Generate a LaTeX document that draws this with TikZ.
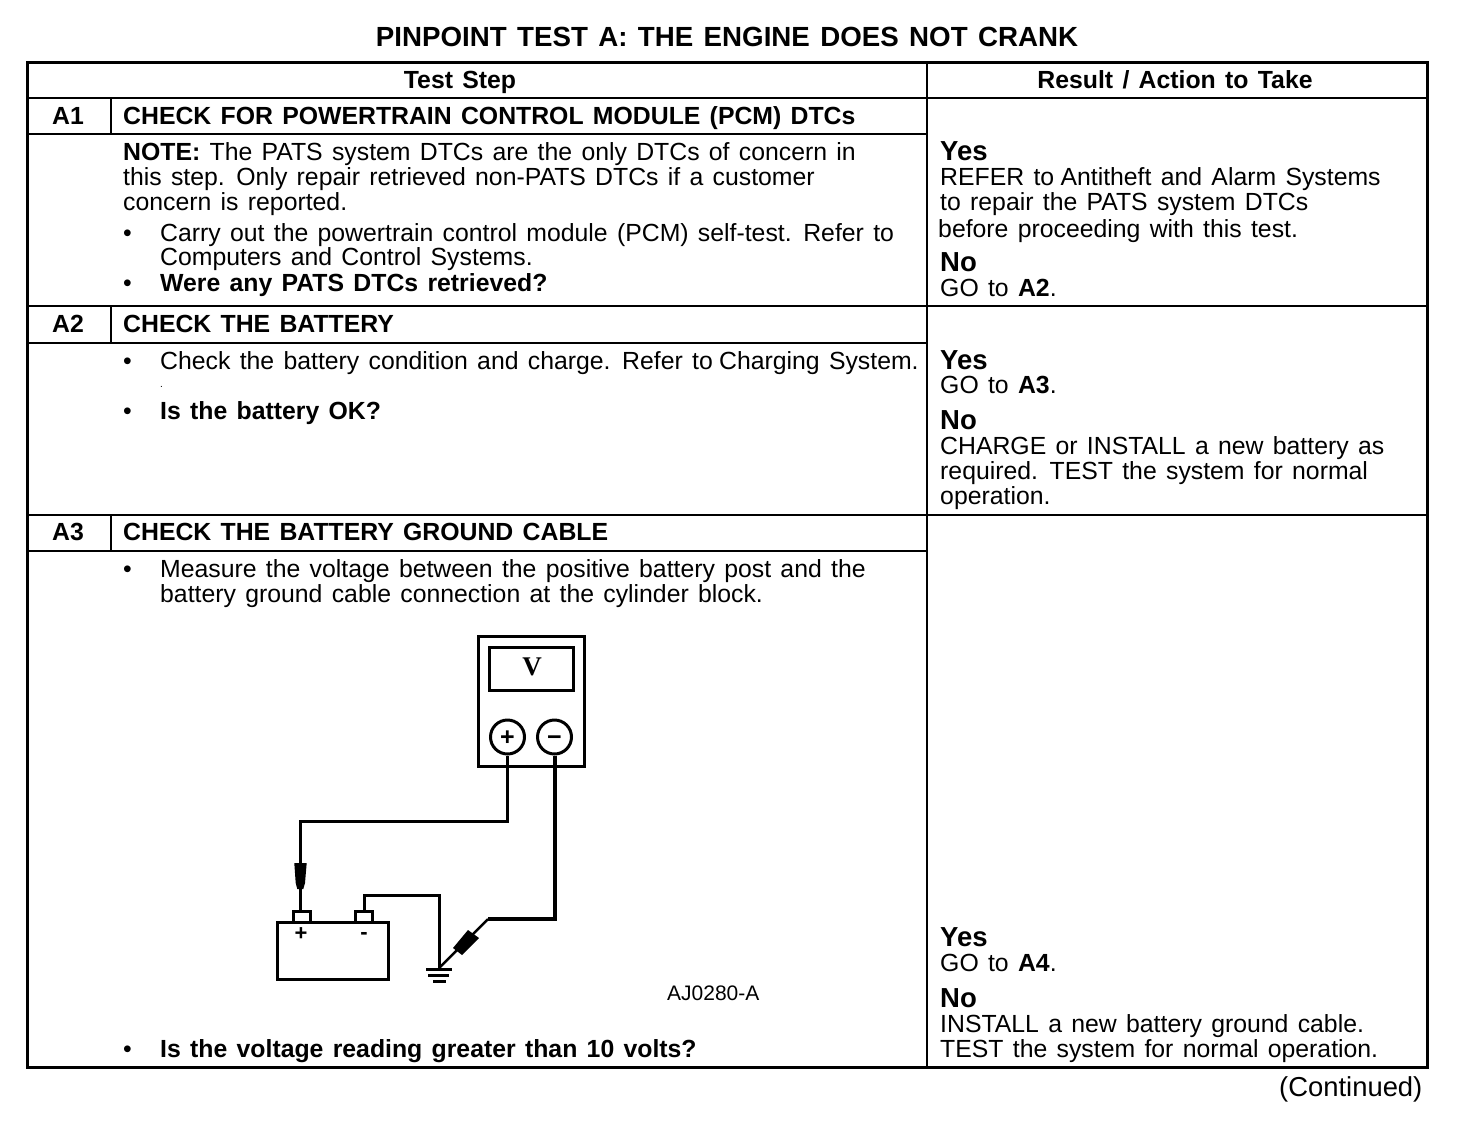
\documentclass[tikz,border=0pt]{standalone}
\usepackage{fontspec}
\setmainfont[WordSpace=1.35]{Liberation Sans}
\newfontfamily\meterfont{Liberation Serif}
\tikzset{
  line/.style={anchor=base west,inner sep=0pt,font=\fontsize{24.8}{25}\selectfont},
  head/.style={line,font=\fontsize{24.8}{25}\selectfont\bfseries},
  answer/.style={line,font=\fontsize{27.5}{28}\selectfont\bfseries},
  grid/.style={line width=2pt},
  frame/.style={line width=3pt},
  wire/.style={line width=3pt},
  post/.style={draw,line width=3pt,inner sep=0pt,minimum width=17pt,minimum height=11pt},
  term/.style={draw,circle,line width=3pt,inner sep=0pt,minimum size=34pt,text height=17pt,text depth=0pt,font=\fontsize{25}{25}\selectfont\bfseries},
  sign/.style={inner sep=0pt,text height=15pt,text depth=0pt,font=\fontsize{22}{22}\selectfont\bfseries}
}
\begin{document}
\begin{tikzpicture}[x=1pt,y=-1pt]
        \useasboundingbox (0,0) rectangle (1472,1120);
        \node[head,anchor=base] (title) at (727,46) {\fontsize{27.7}{28}\selectfont PINPOINT TEST A: THE ENGINE DOES NOT CRANK};
        % Rejilla de la tabla
        \draw[frame] (27,62) rectangle (1427,1067);
        \draw[grid] (927,62) -- (927,1067);
        \foreach \y in {98,306,515} \draw[grid] (27,\y) -- (1427,\y);
        \foreach \y in {134,343,551} \draw[grid] (27,\y) -- (927,\y);
        \foreach \y/\z in {98/134,306/343,515/551} \draw[grid] (111,\y) -- (111,\z);
        \node[head,anchor=base] (headstep) at (460,88) {Test Step};
        \node[head,anchor=base] (headresult) at (1175,88) {Result / Action to Take};
        % A1
        \node[head,anchor=base] (ida1) at (68,124) {A1};
        \node[head] (checka1) at (123,124) {CHECK FOR POWERTRAIN CONTROL MODULE (PCM) DTCs};
        \node[line] (notea) at (123,160) {\textbf{NOTE:} The PATS system DTCs are the only DTCs of concern in};
        \node[line] (noteb) at (123,185) {this step. Only repair retrieved non-PATS DTCs if a customer};
        \node[line] (notec) at (123,210) {concern is reported.};
        \node[line] (bula) at (123,241) {•};
        \node[line] (carrya) at (160,241) {Carry out the powertrain control module (PCM) self-test. Refer to};
        \node[line] (carryb) at (160,265) {Computers and Control Systems.};
        \node[line] (bulb) at (123,291) {•};
        \node[head] (werea) at (160,291) {Were any PATS DTCs retrieved?};
        \node[answer] (yesa) at (940,160) {Yes};
        \node[line] (refera) at (940,185) {REFER to\hspace{-3pt} Antitheft and Alarm Systems};
        \node[line] (referb) at (940,210) {to repair the PATS system DTCs};
        \node[line] (referc) at (938,237) {before proceeding with this test.};
        \node[answer] (noa) at (940,271) {No};
        \node[line] (goa) at (940,296) {GO to \textbf{A2}.};
        % A2
        \node[head,anchor=base] (ida2) at (68,332) {A2};
        \node[head] (checka2) at (123,332) {CHECK THE BATTERY};
        \node[line] (bulc) at (123,369) {•};
        \node[line] (batterya) at (160,369) {Check the battery condition and charge. Refer to\hspace{-3pt} Charging System.};
        \node[line,font=\fontsize{10}{10}\selectfont] (dot) at (160,387) {.};
        \node[line] (buld) at (123,419) {•};
        \node[head] (isok) at (160,419) {Is the battery OK?};
        \node[answer] (yesb) at (940,369) {Yes};
        \node[line] (gob) at (940,393) {GO to \textbf{A3}.};
        \node[answer] (nob) at (940,429) {No};
        \node[line] (chargea) at (940,454) {CHARGE or INSTALL a new battery as};
        \node[line] (chargeb) at (940,479) {required. TEST the system for normal};
        \node[line] (chargec) at (940,504) {operation.};
        % A3
        \node[head,anchor=base] (ida3) at (68,540) {A3};
        \node[head] (checka3) at (123,540) {CHECK THE BATTERY GROUND CABLE};
        \node[line] (bule) at (123,577) {•};
        \node[line] (measurea) at (160,577) {Measure the voltage between the positive battery post and the};
        \node[line] (measureb) at (160,602) {battery ground cable connection at the cylinder block.};
        \node[line] (bulf) at (123,1057) {•};
        \node[head] (isvolt) at (160,1057) {Is the voltage reading greater than 10 volts?};
        \node[answer] (yesc) at (940,946) {Yes};
        \node[line] (goc) at (940,971) {GO to \textbf{A4}.};
        \node[answer] (noc) at (940,1007) {No};
        \node[line] (installa) at (940,1032) {INSTALL a new battery ground cable.};
        \node[line] (installb) at (940,1057) {TEST the system for normal operation.};
        \node[line,font=\fontsize{27.4}{28}\selectfont] (cont) at (1279,1096) {(Continued)};
        % Dibuja el voltimetro
        \draw[frame] (478,636) rectangle (584,766);
        \draw[frame] (489,647) rectangle (573,690);
        \node[inner sep=0pt,font=\fontsize{27}{27}\meterfont\bfseries] (volt) at (532,667) {V};
        \node[term] (termplus) at (507.5,737) {+};
        \node[term] (termminus) at (554.5,737) {−};
        % Bateria
        \draw[frame] (277,922) rectangle (388,979);
        \node[post] (postplus) at (301.5,916.5) {};
        \node[post] (postminus) at (364,916.5) {};
        \node[sign] (signplus) at (301,933) {+};
        \node[sign] (signminus) at (364,932) {-};
        % Cables
        \coordinate (bendplus) at (300,821);
        \coordinate (ground) at (439,968);
        \coordinate (bendminus) at (488,919);
        \coordinate (topminus) at (439,895);
        \draw[wire] (termplus.south) |- (bendplus) -- (bendplus |- postplus.north);
        \draw[line width=4pt] (termminus.south) |- (bendminus);
        \draw[line width=2.5pt] (bendminus) -- (ground);
        \draw[wire] (postminus.north) |- (topminus) -- (ground);
        \fill (294.3,863) -- (306.7,863) -- (305,883) -- (303.3,889) -- (297.3,889) -- (295.7,883) -- cycle;
        \fill (468,930) -- (479,938) -- (462,955) -- (453,948) -- cycle;
        % Tierra
        \draw[wire] (426,969) -- (452,969);
        \draw[wire] (428,975) -- (449,975);
        \draw[wire] (433,981) -- (446,981);
        \node[line,font=\fontsize{21}{21}\selectfont] (code) at (667,1000) {AJ0280-A};
\end{tikzpicture}
\end{document}
